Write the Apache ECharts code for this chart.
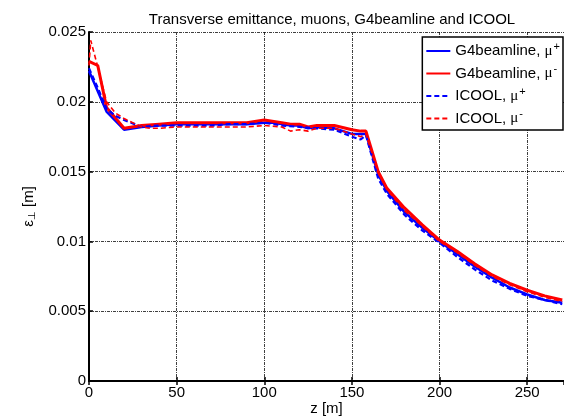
<!DOCTYPE html>
<html>
<head>
<meta charset="utf-8">
<script src="https://cdn.jsdelivr.net/npm/echarts@6/dist/echarts.min.js"></script>
<style>
  html, body { margin: 0; padding: 0; background: #fff; }
  #chart { width: 564px; height: 417px; }
</style>
</head>
<body>
<div id="chart"></div>
<script>
// z positions [m] and transverse emittance [m]
const zG4Plus = [0, 10, 20, 30, 40, 50, 60, 70, 80, 90, 100, 105, 110, 115, 120, 125, 130, 140, 150, 155, 158, 165, 170, 180, 190, 200, 210, 220, 230, 240, 250, 260, 270];
const epsG4Plus = [0.0222, 0.0193, 0.0180, 0.0182, 0.0183, 0.0184, 0.0184, 0.0184, 0.0184, 0.0184, 0.0185, 0.0185, 0.0184, 0.0183, 0.0183, 0.0181, 0.0182, 0.0181, 0.0177, 0.0177, 0.0177, 0.0148, 0.0136, 0.0121, 0.0110, 0.0100, 0.0091, 0.0082, 0.0074, 0.0067, 0.0062, 0.0058, 0.0056];

const zG4Minus = [0, 5, 10, 20, 30, 40, 50, 60, 70, 80, 90, 100, 110, 115, 120, 125, 130, 140, 150, 155, 158, 165, 170, 180, 190, 200, 210, 220, 230, 240, 250, 260, 270];
const epsG4Minus = [0.0229, 0.0226, 0.0196, 0.0181, 0.0183, 0.0184, 0.0185, 0.0185, 0.0185, 0.0185, 0.0185, 0.0187, 0.0185, 0.0184, 0.0184, 0.0182, 0.0183, 0.0183, 0.0180, 0.0179, 0.0179, 0.0150, 0.0138, 0.0124, 0.0112, 0.0101, 0.0093, 0.0084, 0.0076, 0.0070, 0.0065, 0.0061, 0.0058];

const zIcoolPlus = [0, 5, 10, 15, 20, 30, 40, 50, 60, 70, 80, 90, 100, 110, 120, 130, 140, 150, 155, 158, 165, 170, 180, 190, 200, 210, 220, 230, 240, 250, 260, 270];
const epsIcoolPlus = [0.0224, 0.0210, 0.0195, 0.0190, 0.0187, 0.0182, 0.0183, 0.0183, 0.0183, 0.0183, 0.0184, 0.0184, 0.0185, 0.0183, 0.0182, 0.0181, 0.0180, 0.0175, 0.0173, 0.0176, 0.0145, 0.0134, 0.0119, 0.0108, 0.0099, 0.0089, 0.0080, 0.0072, 0.0066, 0.0061, 0.0058, 0.0055];

const zIcoolMinus = [0, 1, 5, 10, 15, 20, 30, 35, 40, 50, 60, 70, 80, 90, 100, 110, 115, 120, 125, 130, 140, 150, 155, 158, 165, 170, 180, 190, 200, 210, 220, 230, 240, 250, 260, 270];
const epsIcoolMinus = [0.0226, 0.0244, 0.0225, 0.0200, 0.0192, 0.0188, 0.0182, 0.0181, 0.0181, 0.0182, 0.0182, 0.0182, 0.0182, 0.0182, 0.0183, 0.0182, 0.0179, 0.0180, 0.0179, 0.0181, 0.0181, 0.0177, 0.0175, 0.0177, 0.0149, 0.0137, 0.0122, 0.0111, 0.0100, 0.0092, 0.0083, 0.0075, 0.0069, 0.0064, 0.0060, 0.0057];

const seriesNames = ['G4beamline, μ+', 'G4beamline, μ-', 'ICOOL, μ+', 'ICOOL, μ-'];

const pairs = (zs, vs) => zs.map((z, i) => [z, vs[i]]);

const chart = echarts.init(document.getElementById('chart'));
const font = 'Liberation Sans, Arial, sans-serif';
const serif = 'Liberation Serif, serif';
const gridLine = { show: true, lineStyle: { color: '#000', width: 1, type: [3, 1, 1, 1], opacity: 0.75 } };

function lineSeries(name, data, color, width, dashed) {
    return {
        name: name,
        type: 'line',
        data: data,
        symbol: 'none',
        showSymbol: false,
        lineStyle: { color: color, width: width, type: dashed ? [5, 3] : 'solid' },
        itemStyle: { color: color },
        z: dashed ? 4 : 3
    };
}

chart.setOption({
    animation: false,
    backgroundColor: '#fff',
    title: {
        text: 'Transverse emittance, muons, G4beamline and ICOOL',
        left: 327,
        top: 7,
        textAlign: 'center',
        textStyle: { fontFamily: font, fontSize: 15, fontWeight: 'normal', color: '#000' }
    },
    grid: { left: 89, right: 0, top: 32, bottom: 36, containLabel: false, outerBoundsMode: 'none' },
    legend: {
        data: seriesNames,
        orient: 'vertical',
        right: 1,
        top: 37,
        padding: [4, 3, 4, 3],
        itemGap: 5,
        itemWidth: 24,
        itemHeight: 14,
        backgroundColor: '#fff',
        borderColor: '#000',
        borderWidth: 1.5,
        borderRadius: 0,
        itemStyle: { opacity: 0 },
        formatter: function (name) {
            const base = name.slice(0, -2);
            const sign = name.slice(-1);
            return '{t|' + base + '}{m|μ}{s|' + sign + '}';
        },
        textStyle: {
            rich: {
                t: { fontFamily: font, fontSize: 15, color: '#000' },
                m: { fontFamily: serif, fontSize: 15, color: '#000' },
                s: { fontFamily: font, fontSize: 11, color: '#000', verticalAlign: 'top', padding: [0, 0, 9, 1] }
            }
        }
    },
    xAxis: [{
        type: 'value',
        min: 0,
        max: 271,
        interval: 50,
        name: 'z [m]',
        nameLocation: 'middle',
        nameGap: 20,
        nameMoveOverlap: false,
        nameTextStyle: { fontFamily: font, fontSize: 15, color: '#000' },
        axisLine: { show: true, onZero: false, lineStyle: { color: '#000', width: 2 } },
        axisTick: { show: true, inside: true, length: 4, lineStyle: { color: '#000', width: 1.5 } },
        axisLabel: { fontFamily: font, fontSize: 15, color: '#000', margin: 4, showMaxLabel: false },
        splitLine: gridLine
    }, {
        type: 'value',
        position: 'top',
        min: 0,
        max: 271,
        interval: 50,
        axisLine: { show: true, lineStyle: { color: '#000', width: 2 } },
        axisTick: { show: true, inside: true, length: 4, lineStyle: { color: '#000', width: 1.5 } },
        axisLabel: { show: false },
        splitLine: { show: false }
    }],
    yAxis: {
        type: 'value',
        min: 0,
        max: 0.025,
        interval: 0.005,
        name: '{e|ε}{b|⊥}{m| [m]}',
        nameLocation: 'middle',
        nameRotate: 90,
        nameGap: 52,
        nameMoveOverlap: false,
        nameTextStyle: {
            rich: {
                e: { fontFamily: font, fontSize: 15, color: '#000' },
                b: { fontFamily: font, fontSize: 10, color: '#000', verticalAlign: 'bottom', padding: [7, 0, 0, 0] },
                m: { fontFamily: font, fontSize: 15, color: '#000' }
            }
        },
        axisLine: { show: true, lineStyle: { color: '#000', width: 2 } },
        axisTick: { show: true, inside: true, length: 4, lineStyle: { color: '#000', width: 1.5 } },
        axisLabel: {
            fontFamily: font, fontSize: 15, color: '#000', margin: 3,
            formatter: v => (v === 0 ? '0' : String(+v.toFixed(3)))
        },
        splitLine: gridLine
    },
    series: [
        lineSeries(seriesNames[0], pairs(zG4Plus, epsG4Plus), '#0000ff', 2.5, false),
        lineSeries(seriesNames[1], pairs(zG4Minus, epsG4Minus), '#ff0000', 3, false),
        lineSeries(seriesNames[2], pairs(zIcoolPlus, epsIcoolPlus), '#0000ff', 2.2, true),
        lineSeries(seriesNames[3], pairs(zIcoolMinus, epsIcoolMinus), '#ff0000', 1.6, true)
    ]
});

window.addEventListener('resize', () => chart.resize());
</script>
</body>
</html>
